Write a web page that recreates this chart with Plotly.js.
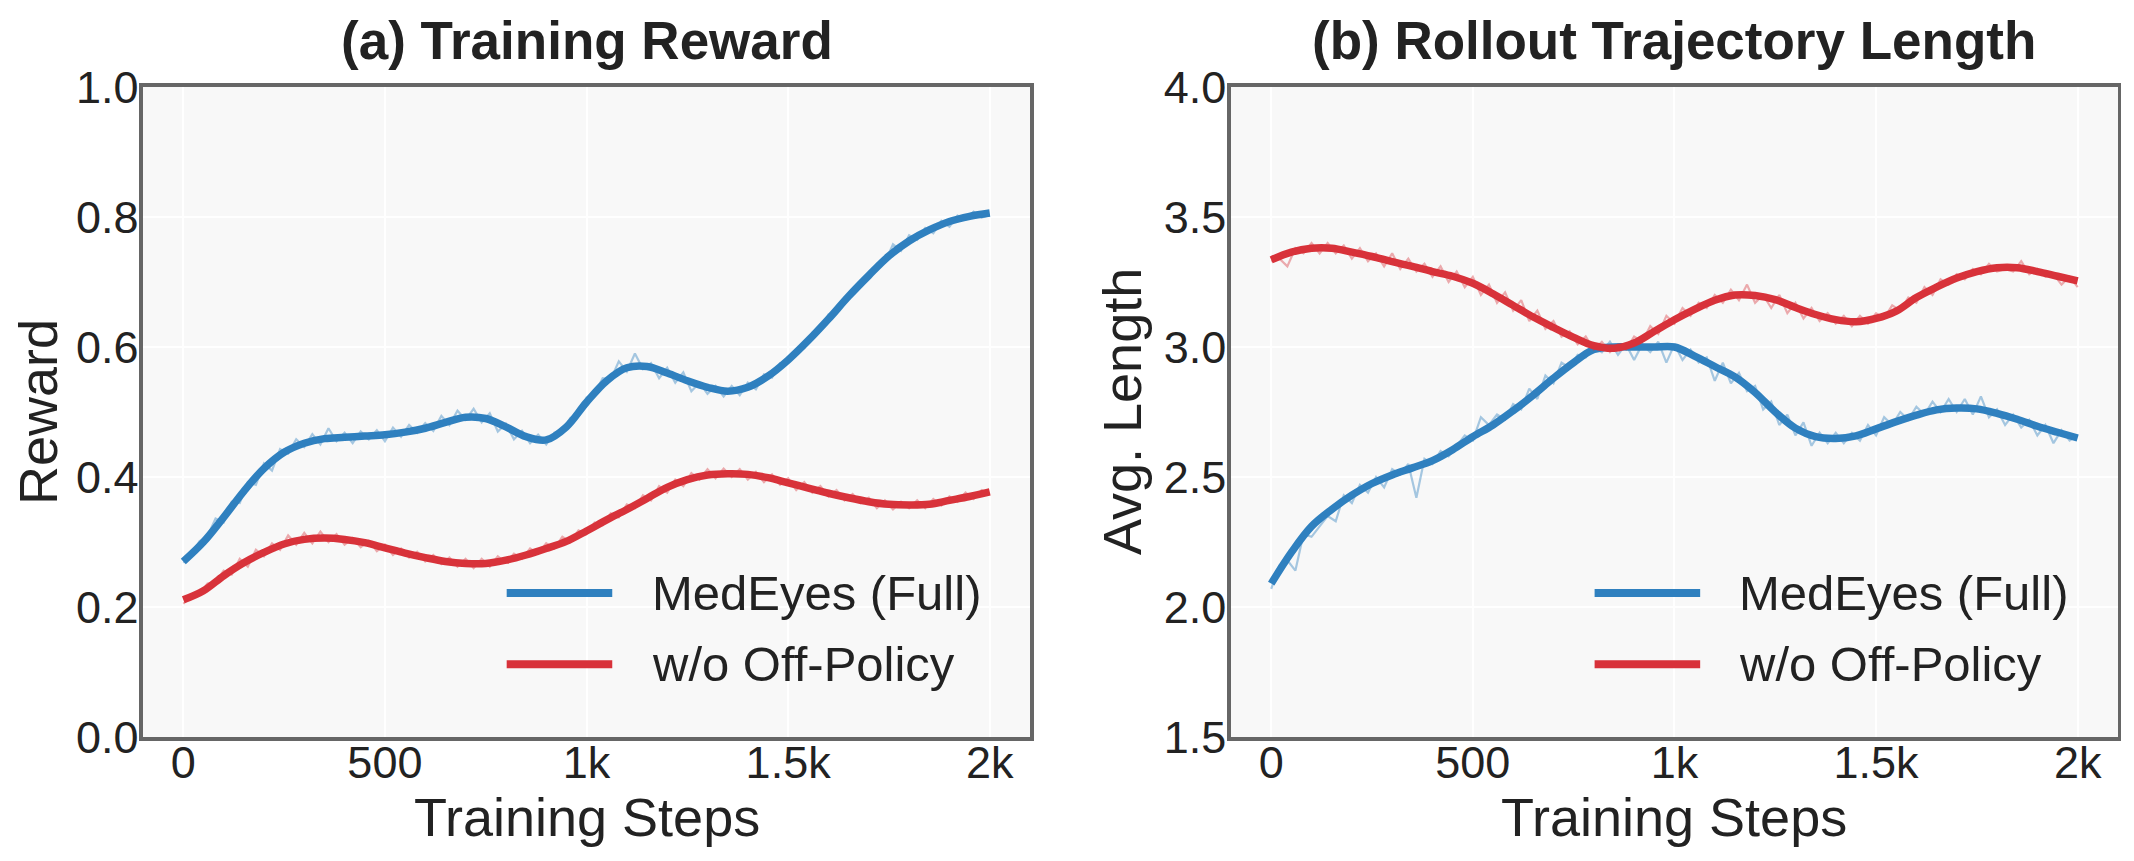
<!DOCTYPE html>
<html>
<head>
<meta charset="utf-8">
<script src="https://cdn.plot.ly/plotly-3.0.1.min.js"></script>
<style>html,body{margin:0;padding:0;background:#fff;}#chart{width:2134px;height:861px;}</style>
</head>
<body>
<div id="chart"></div>
<script>
// ---------- DATA ----------
const seriesNames = ["MedEyes (Full)", "w/o Off-Policy"];
const panelTitles = ["(a) Training Reward", "(b) Rollout Trajectory Length"];
const xAxisTitle = "Training Steps";
const yAxisTitles = ["Reward", "Avg. Length"];
const xTickVals = [0, 500, 1000, 1500, 2000];
const xTickText = ["0", "500", "1k", "1.5k", "2k"];

// smoothed curves, every 50 steps
const smoothSteps = [0,50,100,150,200,250,300,350,400,450,500,550,600,650,700,750,800,850,900,950,1000,
  1050,1100,1150,1200,1250,1300,1350,1400,1450,1500,1550,1600,1650,1700,1750,1800,1850,1900,1950,2000];
const rewardFullSmooth = [0.270,0.300,0.338,0.378,0.413,0.438,0.452,0.459,0.461,0.463,0.465,
  0.469,0.475,0.484,0.492,0.490,0.477,0.462,0.457,0.477,0.515,
  0.548,0.568,0.570,0.560,0.548,0.538,0.532,0.538,0.555,0.580,
  0.610,0.643,0.678,0.710,0.740,0.763,0.780,0.793,0.801,0.806];
const rewardOffSmooth = [0.211,0.225,0.248,0.268,0.284,0.297,0.304,0.306,0.304,0.299,0.291,
  0.283,0.276,0.270,0.267,0.267,0.272,0.280,0.290,0.301,0.317,
  0.334,0.350,0.367,0.384,0.396,0.403,0.405,0.404,0.399,0.391,
  0.383,0.375,0.368,0.362,0.358,0.357,0.358,0.364,0.370,0.377];
const lengthFullSmooth = [2.090,2.210,2.310,2.375,2.430,2.475,2.508,2.535,2.563,2.605,2.655,
  2.700,2.755,2.815,2.880,2.940,2.990,3.000,3.000,3.000,3.000,
  2.965,2.925,2.885,2.825,2.750,2.688,2.655,2.648,2.658,2.685,
  2.713,2.738,2.758,2.765,2.762,2.745,2.722,2.695,2.672,2.650];
const lengthOffSmooth = [3.335,3.365,3.380,3.380,3.365,3.348,3.328,3.310,3.290,3.272,3.245,
  3.205,3.160,3.115,3.075,3.037,3.005,2.995,3.015,3.060,3.105,
  3.145,3.180,3.200,3.198,3.182,3.152,3.125,3.105,3.097,3.110,
  3.138,3.190,3.230,3.265,3.290,3.305,3.305,3.290,3.272,3.254];

// raw (unsmoothed) curves, every 20 steps
const rawSteps = [0,20,40,60,80,100,120,140,160,180,200,220,240,260,280,300,320,340,360,380,
  400,420,440,460,480,500,520,540,560,580,600,620,640,660,680,700,720,740,760,780,
  800,820,840,860,880,900,920,940,960,980,1000,1020,1040,1060,1080,1100,1120,1140,1160,1180,
  1200,1220,1240,1260,1280,1300,1320,1340,1360,1380,1400,1420,1440,1460,1480,1500,1520,1540,1560,1580,
  1600,1620,1640,1660,1680,1700,1720,1740,1760,1780,1800,1820,1840,1860,1880,1900,1920,1940,1960,1980,2000];
const rewardFullRaw = [0.268,0.280,0.301,0.309,0.336,0.330,0.362,0.360,0.392,0.388,
  0.421,0.410,0.443,0.436,0.458,0.446,0.466,0.450,0.475,0.455,
  0.468,0.452,0.470,0.458,0.472,0.455,0.476,0.462,0.480,0.468,
  0.483,0.471,0.494,0.480,0.502,0.488,0.505,0.484,0.498,0.470,
  0.482,0.458,0.471,0.452,0.465,0.450,0.468,0.472,0.491,0.496,
  0.522,0.528,0.552,0.550,0.578,0.562,0.590,0.566,0.575,0.552,
  0.568,0.545,0.561,0.532,0.545,0.528,0.540,0.524,0.540,0.526,
  0.545,0.535,0.558,0.553,0.575,0.578,0.596,0.598,0.622,0.625,
  0.650,0.652,0.676,0.680,0.702,0.706,0.728,0.730,0.758,0.748,
  0.772,0.765,0.783,0.775,0.794,0.785,0.802,0.796,0.808,0.799,0.803];
const rewardOffRaw = [0.205,0.216,0.220,0.236,0.238,0.256,0.250,0.274,0.262,0.288,
  0.278,0.298,0.288,0.310,0.296,0.314,0.298,0.316,0.300,0.312,
  0.296,0.306,0.292,0.302,0.286,0.296,0.280,0.290,0.276,0.285,
  0.270,0.280,0.266,0.276,0.262,0.274,0.260,0.274,0.262,0.278,
  0.268,0.282,0.274,0.290,0.282,0.298,0.290,0.308,0.300,0.318,
  0.312,0.330,0.326,0.344,0.338,0.358,0.352,0.372,0.364,0.386,
  0.376,0.396,0.386,0.406,0.396,0.412,0.398,0.413,0.400,0.412,
  0.396,0.408,0.392,0.404,0.388,0.398,0.380,0.392,0.376,0.386,
  0.370,0.380,0.364,0.374,0.360,0.368,0.352,0.364,0.350,0.362,
  0.352,0.364,0.352,0.366,0.356,0.370,0.362,0.376,0.366,0.380,0.374];
const lengthFullRaw = [2.07,2.16,2.18,2.14,2.28,2.27,2.31,2.35,2.33,2.43,
  2.40,2.47,2.44,2.50,2.46,2.53,2.51,2.55,2.42,2.57,
  2.55,2.60,2.58,2.62,2.66,2.64,2.73,2.70,2.74,2.72,
  2.78,2.76,2.84,2.80,2.89,2.86,2.94,2.92,2.97,2.96,
  3.00,2.98,3.02,2.97,3.01,2.95,3.01,2.98,3.02,2.94,
  3.01,2.95,2.99,2.94,2.96,2.87,2.94,2.86,2.90,2.83,
  2.85,2.76,2.79,2.70,2.74,2.66,2.71,2.62,2.67,2.63,
  2.67,2.63,2.67,2.64,2.70,2.66,2.73,2.70,2.75,2.72,
  2.77,2.74,2.79,2.75,2.80,2.75,2.80,2.74,2.81,2.73,
  2.76,2.70,2.74,2.69,2.72,2.66,2.70,2.63,2.68,2.64,2.66];
const lengthOffRaw = [3.33,3.34,3.31,3.38,3.36,3.40,3.36,3.40,3.36,3.39,
  3.34,3.38,3.33,3.36,3.31,3.36,3.30,3.34,3.29,3.32,
  3.27,3.31,3.25,3.29,3.23,3.27,3.20,3.24,3.17,3.21,
  3.14,3.18,3.10,3.14,3.07,3.10,3.04,3.06,3.01,3.04,
  2.99,3.02,2.98,3.01,2.99,3.04,3.02,3.08,3.05,3.12,
  3.09,3.15,3.12,3.17,3.15,3.20,3.17,3.22,3.18,3.24,
  3.17,3.20,3.15,3.20,3.13,3.17,3.11,3.15,3.10,3.13,
  3.09,3.12,3.08,3.12,3.09,3.13,3.11,3.16,3.14,3.19,
  3.17,3.23,3.20,3.26,3.24,3.28,3.26,3.30,3.28,3.32,
  3.29,3.30,3.29,3.33,3.28,3.30,3.27,3.28,3.24,3.27,3.23];

// ---------- STYLE ----------
const BLUE = "#2f80bf";
const RED = "#d8323a";
const BLUE_RAW = "rgba(47,128,191,0.42)";
const RED_RAW = "rgba(216,50,58,0.40)";
const FONT = "Liberation Sans, Arial, Helvetica, sans-serif";
const TXT = "#222222";

function rawTrace(y, color, xa, ya) {
  return {x: rawSteps, y: y, xaxis: xa, yaxis: ya, mode: "lines", type: "scatter",
    line: {color: color, width: 2.2}, hoverinfo: "skip", showlegend: false};
}
function smoothTrace(y, color, xa, ya, name) {
  return {x: smoothSteps, y: y, xaxis: xa, yaxis: ya, mode: "lines", type: "scatter", name: name,
    line: {color: color, width: 7.5, shape: "spline", smoothing: 1}, showlegend: false};
}

const traces = [
  rawTrace(rewardFullRaw, BLUE_RAW, "x", "y"),
  smoothTrace(rewardFullSmooth, BLUE, "x", "y", seriesNames[0]),
  rawTrace(rewardOffRaw, RED_RAW, "x", "y"),
  smoothTrace(rewardOffSmooth, RED, "x", "y", seriesNames[1]),
  rawTrace(lengthFullRaw, BLUE_RAW, "x2", "y2"),
  smoothTrace(lengthFullSmooth, BLUE, "x2", "y2", seriesNames[0]),
  rawTrace(lengthOffRaw, RED_RAW, "x2", "y2"),
  smoothTrace(lengthOffSmooth, RED, "x2", "y2", seriesNames[1])
];

const yDom = [0.144, 0.899];
function xAxis(domain, anchor) {
  return {domain: domain, anchor: anchor, range: [-100, 2100], tickvals: xTickVals, ticktext: xTickText,
    showline: true, mirror: true, linecolor: "#666666", linewidth: 3.5, ticks: "", ticklen: 0,
    showgrid: true, gridcolor: "#ffffff", gridwidth: 2, zeroline: false,
    tickfont: {family: FONT, size: 45, color: TXT}, ticklabelstandoff: -17};
}
function yAxis(range, dtick, anchor) {
  return {domain: yDom, anchor: anchor, range: range, dtick: dtick, tick0: range[0], tickformat: ".1f",
    showline: true, mirror: true, linecolor: "#666666", linewidth: 3.5, ticks: "", ticklen: 0,
    showgrid: true, gridcolor: "#ffffff", gridwidth: 2, zeroline: false,
    tickfont: {family: FONT, size: 45, color: TXT}, ticklabelstandoff: -8};
}

function legendItems(xa, ya) {
  const shapes = [], anns = [];
  const rows = [0.2215, 0.112];
  const cols = [BLUE, RED];
  for (let i = 0; i < 2; i++) {
    shapes.push({type: "line", xref: xa + " domain", yref: ya + " domain",
      x0: 0.41, x1: 0.529, y0: rows[i], y1: rows[i], line: {color: cols[i], width: 8}});
    anns.push({xref: xa + " domain", yref: ya + " domain", x: 0.571, y: rows[i],
      xanchor: "left", yanchor: "middle", showarrow: false, text: seriesNames[i],
      font: {family: FONT, size: 49, color: TXT}});
  }
  return {shapes, anns};
}
const lg1 = legendItems("x", "y");
const lg2 = legendItems("x2", "y2");

const textAnns = [
  {xref: "x domain", yref: "paper", x: 0.5, y: 0.953, xanchor: "center", yanchor: "middle", showarrow: false,
    text: "<b>" + panelTitles[0] + "</b>", font: {family: FONT, size: 53, color: TXT}},
  {xref: "x2 domain", yref: "paper", x: 0.5, y: 0.953, xanchor: "center", yanchor: "middle", showarrow: false,
    text: "<b>" + panelTitles[1] + "</b>", font: {family: FONT, size: 53, color: TXT}},
  {xref: "x domain", yref: "paper", x: 0.5, y: 0.0515, xanchor: "center", yanchor: "middle", showarrow: false,
    text: xAxisTitle, font: {family: FONT, size: 54, color: TXT}},
  {xref: "x2 domain", yref: "paper", x: 0.5, y: 0.0515, xanchor: "center", yanchor: "middle", showarrow: false,
    text: xAxisTitle, font: {family: FONT, size: 54, color: TXT}},
  {xref: "paper", yref: "y domain", x: 0.0178, y: 0.5, xanchor: "center", yanchor: "middle", showarrow: false,
    textangle: -90, text: yAxisTitles[0], font: {family: FONT, size: 54, color: TXT}},
  {xref: "paper", yref: "y2 domain", x: 0.5258, y: 0.5, xanchor: "center", yanchor: "middle", showarrow: false,
    textangle: -90, text: yAxisTitles[1], font: {family: FONT, size: 54, color: TXT}}
];

const layout = {
  width: 2134, height: 861,
  margin: {l: 0, r: 0, t: 0, b: 0},
  paper_bgcolor: "#ffffff", plot_bgcolor: "#f8f8f8",
  showlegend: false,
  xaxis: xAxis([0.0670, 0.4827], "y"),
  yaxis: yAxis([0, 1], 0.2, "x"),
  xaxis2: xAxis([0.5768, 0.9925], "y2"),
  yaxis2: yAxis([1.5, 4], 0.5, "x2"),
  shapes: lg1.shapes.concat(lg2.shapes),
  annotations: textAnns.concat(lg1.anns, lg2.anns)
};

Plotly.newPlot("chart", traces, layout, {displayModeBar: false, staticPlot: true});
</script>
</body>
</html>
